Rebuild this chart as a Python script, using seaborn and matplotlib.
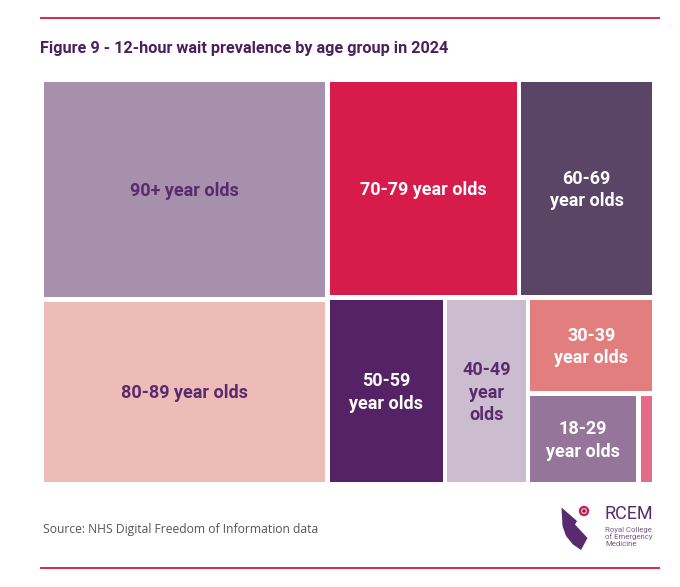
import numpy as np
import matplotlib
matplotlib.use("Agg")
import matplotlib.pyplot as plt
import seaborn as sns
from matplotlib.patches import Rectangle, Polygon, Circle

# share of 12-hour waits by age group (%)
age_groups = ["90+", "80-89", "70-79", "60-69", "50-59", "40-49", "30-39", "18-29", "Under 18"]
share_pct = [25.4, 21.3, 17.0, 11.8, 8.9, 6.3, 4.9, 4.0, 0.5]

box_colors = ["#A690AC", "#EEBCB7", "#D71B4B", "#5B4566", "#552266",
              "#CCBCD0", "#E37E7E", "#95759A", "#E56B8B"]
text_colors = ["#5A2A6E", "#5A2A6E", "white", "white", "white",
               "#5A2A6E", "white", "white", "white"]

title = "Figure 9 - 12-hour wait prevalence by age group in 2024"
source = "Source: NHS Digital Freedom of Information data"

W, H = 608, 400   # treemap area in pixels
PAD = 4.6


def binary_treemap(vals, x0, y0, x1, y1):
    # d3-style binary split: halve the total, cut along the longer side
    if len(vals) == 1:
        return [(x0, y0, x1, y1)]
    total = sum(vals)
    cum = np.cumsum(vals)
    k = int(np.argmin(np.abs(cum[:-1] - total / 2))) + 1
    frac = cum[k - 1] / total
    if (x1 - x0) > (y1 - y0):
        xk = x0 + (x1 - x0) * frac
        return binary_treemap(vals[:k], x0, y0, xk, y1) + binary_treemap(vals[k:], xk, y0, x1, y1)
    yk = y0 + (y1 - y0) * frac
    return binary_treemap(vals[:k], x0, y0, x1, yk) + binary_treemap(vals[k:], x0, yk, x1, y1)


sns.set_theme(style="white")
plt.rcParams['font.family'] = ['Roboto', 'DejaVu Sans']

fig = plt.figure(figsize=(6.8, 5.87), dpi=100)
fig.patch.set_facecolor("white")

# overlay in pixel coordinates for the page decorations
deco = fig.add_axes([0, 0, 1, 1], zorder=0)
deco.set_xlim(0, 680)
deco.set_ylim(587, 0)
deco.axis("off")
deco.plot([40, 660], [18, 18], color="#D8284F", lw=1.4, solid_capstyle="butt")
deco.plot([40, 660], [568, 568], color="#D8284F", lw=1.4, solid_capstyle="butt")
deco.text(40, 49, title, fontsize=11.7, fontweight="bold", color="#4C1F5E", va="center", ha="left")
deco.text(43, 530, source, fontsize=8.7, color="#555555", va="center", ha="left", family=["Open Sans", "DejaVu Sans"])

# logo
deco.add_patch(Polygon([(561.5, 507.5), (577, 521), (575, 524.5), (587.5, 538), (581, 550),
                        (573, 544.5), (566, 536), (562.5, 526)],
                       closed=True, color="#5A2A6E", lw=0))
deco.add_patch(Circle((584, 511), 5.2, color="#D71B4B", lw=0))
deco.add_patch(Circle((584, 511), 2.9, color="#F4C6D2", lw=0))
deco.add_patch(Circle((584, 511), 1.7, color="#5A2A6E", lw=0))
deco.text(604, 514, "RCEM", fontsize=13, color="#5A2A6E", va="center", ha="left")
deco.text(605, 537, "Royal College\nof Emergency\nMedicine", fontsize=5.6, color="#7A5A85",
          va="center", ha="left", linespacing=1.05)

ax = fig.add_axes([44 / 680, 1 - 482 / 587, W / 680, H / 587], zorder=1)
ax.set_xlim(0, W)
ax.set_ylim(H, 0)
ax.axis("off")

rects = binary_treemap(share_pct, 0, 0, W, H)
renderer = fig.canvas.get_renderer()
for (x0, y0, x1, y1), grp, fc, tc in zip(rects, age_groups, box_colors, text_colors):
    if x0 > 0.5: x0 += PAD / 2
    if y0 > 0.5: y0 += PAD / 2
    if x1 < W - 0.5: x1 -= PAD / 2
    if y1 < H - 0.5: y1 -= PAD / 2
    ax.add_patch(Rectangle((x0, y0), x1 - x0, y1 - y0, facecolor=fc, edgecolor="none"))

    words = f"{grp} year olds".split()
    options = [" ".join(words),
               " ".join(words[:-2]) + "\n" + " ".join(words[-2:]),
               "\n".join(words)]
    for lab in options:
        t = ax.text((x0 + x1) / 2, (y0 + y1) / 2 + 1.5, lab, ha="center", va="center",
                    fontsize=13, fontweight="bold", color=tc, linespacing=1.3)
        bb = t.get_window_extent(renderer)
        if bb.width <= (x1 - x0) - 22 and bb.height <= (y1 - y0) - 10:
            break
        t.remove()

fig.savefig("out.png", dpi=100, facecolor="white")
